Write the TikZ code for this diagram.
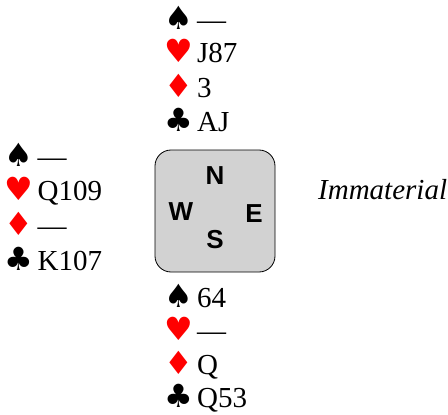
\documentclass[tikz,border=0pt]{standalone}
\usepackage{fontspec}
\setmainfont{Liberation Serif}
\newfontfamily\suitfont{DejaVu Sans}
\newfontfamily\boardfont{Liberation Sans}
\newcommand\SuitBox[2]{\makebox[37pt][c]{\suitfont\fontsize{32}{34}\selectfont\textcolor{#1}{#2}}}
\newcommand\SpS{\SuitBox{black}{♠}}
\newcommand\HtS{\SuitBox{red}{♥}}
\newcommand\DmS{\SuitBox{red}{♦}}
\newcommand\ClS{\SuitBox{black}{♣}}
\begin{document}
\begin{tikzpicture}[x=1pt,y=-1pt,
  handline/.style={anchor=base west, inner sep=0pt, font=\fontsize{29}{31}\selectfont},
  compass/.style={inner sep=0pt, font=\boardfont\bfseries\fontsize{26}{28}\selectfont},
  boardbox/.style={draw=black, line width=0.8pt, rounded corners=16pt, fill=gray!35,
    minimum width=120pt, minimum height=122pt, inner sep=0pt}]
\useasboundingbox (0,0) rectangle (448,415);
% North
\node[handline] (n1) at (160,29) {\SpS—};
\node[handline] (n2) at (160,63) {\HtS J87};
\node[handline] (n3) at (160,97) {\DmS 3};
\node[handline] (n4) at (160,131) {\ClS AJ};
% West
\node[handline] (w1) at (0.5,166) {\SpS—};
\node[handline] (w2) at (0.5,200) {\HtS Q109};
\node[handline] (w3) at (0.5,235) {\DmS—};
\node[handline] (w4) at (0.5,270) {\ClS K107};
% South
\node[handline] (s1) at (160,307) {\SpS 64};
\node[handline] (s2) at (160,340) {\HtS—};
\node[handline] (s3) at (160,374) {\DmS Q};
\node[handline] (s4) at (160,407) {\ClS Q53};
% East
\node[handline, font=\itshape\fontsize{29}{31}\selectfont] (east) at (318,199) {Immaterial};
% Board
\node[boardbox] (board) at (215,211) {};
\node[compass] (bn) at (215,176) {N};
\node[compass] (bw) at (181,212) {W};
\node[compass] (be) at (254,214) {E};
\node[compass] (bs) at (215,240) {S};
\end{tikzpicture}
\end{document}
